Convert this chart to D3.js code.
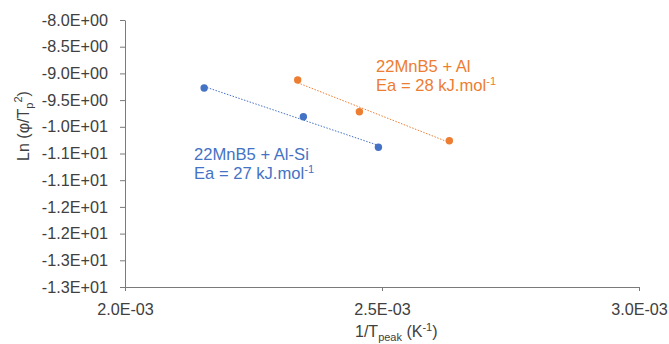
<!DOCTYPE html>
<html>
<head>
<meta charset="utf-8">
<script src="https://cdn.jsdelivr.net/npm/d3@7/dist/d3.min.js"></script>
<style>
  html, body { margin: 0; padding: 0; background: #fff; }
  svg { display: block; font-family: "Liberation Sans", Arial, sans-serif; }
</style>
</head>
<body>
<svg id="chart" width="669" height="344"></svg>
<script>
// Arrhenius-type plot: ln(phi/Tp^2) against 1/Tpeak for two coatings
const alSiX = [0.002154, 0.002347, 0.002493];
const alSiY = [-9.273, -9.811, -10.384];
const alX = [0.002336, 0.002456, 0.002631];
const alY = [-9.124, -9.717, -10.26];

const xTicks = [0.002, 0.0025, 0.003];
const xTickLabels = ["2.0E-03", "2.5E-03", "3.0E-03"];
const yTicks = [-8, -8.5, -9, -9.5, -10, -10.5, -11, -11.5, -12, -12.5, -13];
const yTickLabels = ["-8.0E+00", "-8.5E+00", "-9.0E+00", "-9.5E+00", "-1.0E+01",
  "-1.1E+01", "-1.1E+01", "-1.2E+01", "-1.2E+01", "-1.3E+01", "-1.3E+01"];

const series = [
  { name: "22MnB5 + Al-Si", ea: "27", xs: alSiX, ys: alSiY, color: "#4472C4", label: [194, 160] },
  { name: "22MnB5 + Al", ea: "28", xs: alX, ys: alY, color: "#ED7D31", label: [376, 72] }
];

const svg = d3.select("#chart");
const plotL = 125, plotR = 639, plotT = 20, plotB = 287;

const x = d3.scaleLinear().domain([0.002, 0.003]).range([plotL, plotR]);
const y = d3.scaleLinear().domain([-13, -8]).range([plotB, plotT]);

const axisColor = "#7a7a7a";
const textColor = "#404040";

// x axis
const gx = svg.append("g")
  .attr("transform", `translate(0,${plotB})`)
  .call(d3.axisBottom(x).tickValues(xTicks)
    .tickFormat((d, i) => xTickLabels[i]).tickSize(4).tickSizeOuter(0).tickPadding(12));
// y axis
const gy = svg.append("g")
  .attr("transform", `translate(${plotL},0)`)
  .call(d3.axisLeft(y).tickValues(yTicks)
    .tickFormat((d, i) => yTickLabels[i]).tickSize(5).tickSizeOuter(0).tickPadding(12));

[gx, gy].forEach(g => {
  g.select(".domain").attr("stroke", axisColor);
  g.selectAll(".tick line").attr("stroke", axisColor);
  g.selectAll(".tick text").attr("fill", textColor)
    .attr("font-size", 16.2).attr("font-family", "Liberation Sans, Arial, sans-serif");
});

// trendlines (least squares) and markers
series.forEach(s => {
  const n = s.xs.length;
  const mx = d3.mean(s.xs), my = d3.mean(s.ys);
  let sxy = 0, sxx = 0;
  for (let i = 0; i < n; i++) {
    sxy += (s.xs[i] - mx) * (s.ys[i] - my);
    sxx += (s.xs[i] - mx) ** 2;
  }
  const slope = sxy / sxx, icpt = my - slope * mx;
  const [x0, x1] = d3.extent(s.xs);
  svg.append("line")
    .attr("x1", x(x0)).attr("y1", y(icpt + slope * x0))
    .attr("x2", x(x1)).attr("y2", y(icpt + slope * x1))
    .attr("stroke", s.color).attr("stroke-width", 1)
    .attr("stroke-dasharray", "1.5,1.5");

  svg.append("g").selectAll("circle")
    .data(s.xs.map((v, i) => [v, s.ys[i]]))
    .join("circle")
    .attr("cx", d => x(d[0])).attr("cy", d => y(d[1]))
    .attr("r", 3.7).attr("fill", s.color);

  const t = svg.append("text")
    .attr("x", s.label[0]).attr("y", s.label[1])
    .attr("fill", s.color).attr("font-size", 16.6);
  t.append("tspan").attr("x", s.label[0]).text(s.name);
  t.append("tspan").attr("x", s.label[0]).attr("dy", 19)
    .text(`Ea = ${s.ea} kJ.mol`);
  t.append("tspan").attr("dy", -6).attr("font-size", 11).text("-1");
});

// axis titles
const xt = svg.append("text")
  .attr("x", 355).attr("y", 337)
  .attr("fill", textColor).attr("font-size", 16);
xt.append("tspan").text("1/T");
xt.append("tspan").attr("dy", 4).attr("font-size", 11).text("peak");
xt.append("tspan").attr("dy", -4).text(" (K");
xt.append("tspan").attr("dy", -6).attr("font-size", 11).text("-1");
xt.append("tspan").attr("dy", 6).text(")");

const yt = svg.append("text")
  .attr("transform", "translate(29,126) rotate(-90)")
  .attr("text-anchor", "middle")
  .attr("fill", textColor).attr("font-size", 16);
yt.append("tspan").text("Ln (\u03C6/T");
yt.append("tspan").attr("dy", 4).attr("font-size", 11).text("p");
yt.append("tspan").attr("dy", -11).attr("font-size", 11).text("2");
yt.append("tspan").attr("dy", 7).text(")");
</script>
</body>
</html>
